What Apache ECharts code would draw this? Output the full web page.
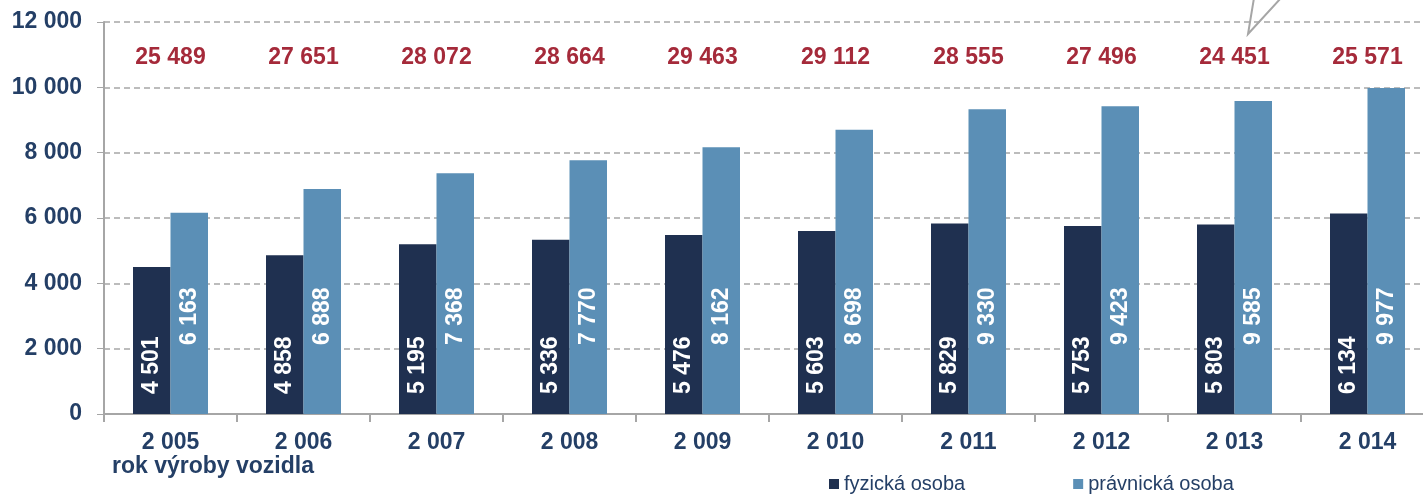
<!DOCTYPE html>
<html>
<head>
<meta charset="utf-8">
<script src="https://cdn.jsdelivr.net/npm/echarts@6/dist/echarts.min.js"></script>
<style>
  html, body { margin: 0; padding: 0; background: #fff; overflow: hidden; }
  #chart { width: 1434px; height: 495px; }
</style>
</head>
<body>
<div id="chart"></div>
<script>
// rok výroby vozidla
var years = ['2 005', '2 006', '2 007', '2 008', '2 009', '2 010', '2 011', '2 012', '2 013', '2 014'];
var fyzicka = [4501, 4858, 5195, 5336, 5476, 5603, 5829, 5753, 5803, 6134];
var pravnicka = [6163, 6888, 7368, 7770, 8162, 8698, 9330, 9423, 9585, 9977];
var celkem = [25489, 27651, 28072, 28664, 29463, 29112, 28555, 27496, 24451, 25571];
var yTicks = [0, 2000, 4000, 6000, 8000, 10000, 12000];

var TOTAL_ROW = 10900; // vyska radku s celkovymi pocty

function fmt(v) {
    return String(v).replace(/\B(?=(\d{3})+(?!\d))/g, ' ');
}

var navy = '#1f3050';
var blue = '#5b8fb6';
var txt = '#243f66';
var font = '"Liberation Sans", Arial, sans-serif';

var myChart = echarts.init(document.getElementById('chart'));
var option = {
    animation: false,
    textStyle: {fontFamily: font},
    // graf je vpravo oriznuty, kontejner je o kousek sirsi nez okno
    grid: {left: 104, top: 22, bottom: 81, right: 0, containLabel: false},
    legend: {
        data: ['fyzická osoba', 'právnická osoba'],
        left: 824, bottom: -4, icon: 'rect', itemWidth: 10, itemHeight: 10, itemGap: 108,
        textStyle: {fontSize: 20, color: txt, fontFamily: font}
    },
    xAxis: {
        type: 'category', data: years,
        axisLine: {lineStyle: {color: '#a6a6a6', width: 2}},
        axisTick: {show: true, length: 8, lineStyle: {color: '#a6a6a6', width: 2}},
        axisLabel: {fontSize: 23, fontWeight: 'bold', color: txt, margin: 17}
    },
    yAxis: {
        type: 'value', min: 0, max: 12000, interval: 2000,
        axisLine: {show: true, lineStyle: {color: '#a6a6a6', width: 2}},
        axisTick: {show: true, length: 7, lineStyle: {color: '#a6a6a6', width: 1}},
        splitLine: {lineStyle: {color: '#a6a6a6', type: [6, 4], width: 1.5}},
        axisLabel: {
            fontSize: 23, fontWeight: 'bold', color: txt, margin: 22,
            formatter: function (v) { return yTicks.indexOf(v) >= 0 ? fmt(v) : ''; }
        }
    },
    series: [
        {
            name: 'fyzická osoba', type: 'bar', data: fyzicka, barWidth: 37.5, barGap: '0%',
            itemStyle: {color: navy},
            label: {
                show: true, position: 'insideBottom', rotate: 90, align: 'left', verticalAlign: 'middle',
                distance: 20, color: '#fff', fontSize: 23, fontWeight: 'bold',
                formatter: function (p) { return fmt(p.value); }
            }
        },
        {
            name: 'právnická osoba', type: 'bar', data: pravnicka, barWidth: 37.5, barGap: '0%',
            itemStyle: {color: blue},
            label: {
                show: true, position: 'insideBottom', rotate: 90, align: 'left', verticalAlign: 'middle',
                distance: 69, color: '#fff', fontSize: 23, fontWeight: 'bold',
                formatter: function (p) { return fmt(p.value); }
            }
        },
        {
            name: 'celkem', type: 'scatter', symbolSize: 0, silent: true,
            itemStyle: {opacity: 1},
            data: celkem.map(function (v, i) { return [i, TOTAL_ROW]; }),
            label: {
                show: true, position: 'inside', color: '#a52a3a', opacity: 1, fontSize: 23, fontWeight: 'bold',
                formatter: function (p) { return fmt(celkem[p.dataIndex]); }
            }
        }
    ],
    graphic: [{
        type: 'polyline', silent: true,
        shape: {points: [[1254, -2], [1248, 34], [1281, -2]]},
        style: {stroke: '#a6a6a6', lineWidth: 2, fill: null}
    }, {
        type: 'text', left: 112, top: 455,
        style: {text: 'rok výroby vozidla', fontSize: 23, fontWeight: 'bold', fill: txt, fontFamily: font}
    }]
};
if (option && typeof option === "object") {
    myChart.setOption(option, true);
}
</script>
</body>
</html>
